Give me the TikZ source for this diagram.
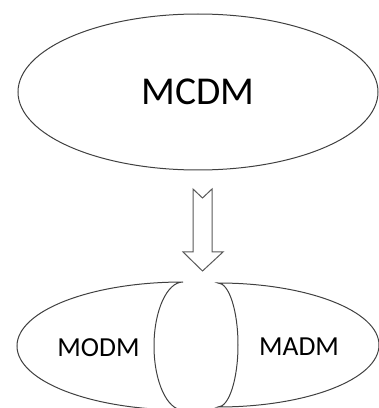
\documentclass[tikz,border=0pt]{standalone}
\usepackage{fontspec}
\setmainfont{Carlito}
\usetikzlibrary{shapes.geometric}
\tikzset{
  outline/.style={draw=black!75, line width=1pt},
  bigtext/.style={font=\fontsize{39.5}{46}\selectfont, text=black},
  smalltext/.style={font=\fontsize{27.5}{33}\selectfont, text=black},
  blockarrow/.style={draw=black!65, line width=1pt, fill=white, line join=miter},
}
\begin{document}
\begin{tikzpicture}[x=1pt, y=1pt]
  \useasboundingbox (0,0) rectangle (379,408);
  % top ellipse
  \node[outline, ellipse, minimum width=360pt, minimum height=156pt, inner sep=0pt] (mcdm) at (198,316) {};
  \node[bigtext] (mcdmlabel) at (mcdm.center) {MCDM};
  % notched block arrow
  \coordinate (arrowtop) at (202.5,219);
  \draw[blockarrow] (193,219) -- (202.5,210) -- (212,219) -- (212,156) -- (223,156)
    -- (202.5,137) -- (183,156) -- (193,156) -- cycle;
  % left crescent
  \coordinate (ltip) at (183,126);
  \draw[outline] (ltip) arc[start angle=90, end angle=270, x radius=166, y radius=64]
    arc[start angle=270, end angle=90, x radius=29, y radius=64] -- cycle;
  % right crescent
  \coordinate (rtip) at (218,125);
  \draw[outline] (rtip) arc[start angle=90, end angle=-90, x radius=161, y radius=62]
    arc[start angle=-90, end angle=90, x radius=20, y radius=62] -- cycle;
  \node[smalltext] (modm) at (98.5,60) {MODM};
  \node[smalltext] (madm) at (299,61) {MADM};
\end{tikzpicture}
\end{document}
